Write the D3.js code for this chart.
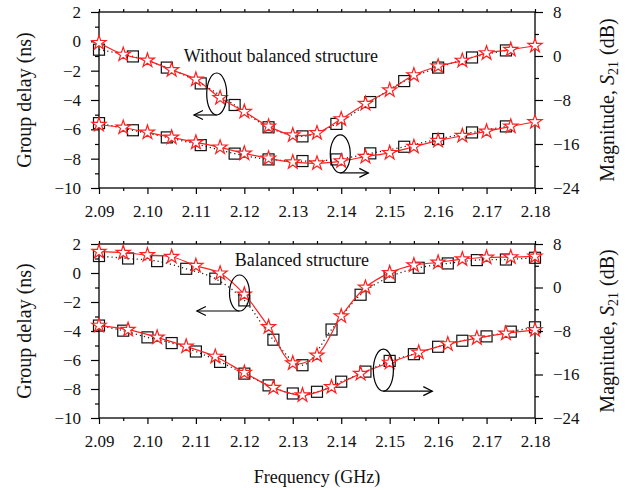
<!DOCTYPE html>
<html>
<head>
<meta charset="utf-8">
<script src="https://cdn.jsdelivr.net/npm/d3@7"></script>
<style>
  body { margin: 0; background: #fff; }
  svg { display: block; font-family: "Liberation Serif", "DejaVu Serif", serif; }
</style>
</head>
<body>
<svg id="chart" width="635" height="490"></svg>
<script>
// frequencies (GHz) of the markers
let fStars5 = [2.090, 2.095, 2.100, 2.105, 2.110, 2.115, 2.120, 2.125, 2.130, 2.135,
               2.140, 2.145, 2.150, 2.155, 2.160, 2.165, 2.170, 2.175, 2.180]
let fSquares7 = [2.090, 2.097, 2.104, 2.111, 2.118, 2.125, 2.132, 2.139, 2.146, 2.153, 2.160, 2.167, 2.174]
let fSquares6 = [2.090, 2.096, 2.102, 2.108, 2.114, 2.120, 2.126, 2.132, 2.138, 2.144,
                 2.150, 2.156, 2.162, 2.168, 2.174, 2.180]

// top panel: without balanced structure
let delayTopSim  = [-0.10, -0.90, -1.30, -1.95, -2.60, -3.85, -4.80, -5.80, -6.40, -6.25,
                    -5.30, -4.25, -3.33, -2.30, -1.70, -1.31, -0.80, -0.57, -0.30]
let delayTopMeas = [-0.57, -1.03, -1.79, -2.87, -4.34, -5.86, -6.48, -5.63, -4.14, -2.71, -1.79, -1.10, -0.62]
let magTopSim    = [-12.5, -13.0, -13.9, -14.8, -15.7, -16.6, -17.7, -18.6, -19.3, -19.5,
                    -19.1, -18.3, -17.6, -16.5, -15.4, -14.5, -13.7, -12.8, -12.0]
let magTopMeas   = [-12.2, -13.5, -14.8, -16.2, -17.75, -18.8, -19.1, -18.8, -17.7, -16.5, -15.1, -13.9, -12.8]

// bottom panel: balanced structure
let delayBotSim  = [1.47, 1.40, 1.24, 1.12, 0.50, -0.02, -1.48, -3.72, -6.22, -5.68,
                    -2.98, -1.00, 0.01, 0.54, 0.73, 0.96, 1.07, 1.10, 1.14]
let delayBotMeas = [1.17, 1.00, 0.82, 0.29, -0.39, -1.89, -4.60, -6.36, -3.90, -1.50,
                    -0.27, 0.36, 0.66, 0.89, 0.93, 1.05]
let magBotSim    = [-7.0, -7.75, -9.17, -10.84, -12.7, -15.66, -18.44, -19.8, -18.3, -15.84,
                    -13.8, -11.95, -10.4, -9.3, -8.43, -7.8]
let magBotMeas   = [-7.0, -7.94, -9.17, -10.22, -11.77, -13.68, -15.84, -18.0, -19.49, -19.18,
                    -17.32, -15.47, -13.5, -12.26, -10.9, -9.79, -8.99, -8.12, -7.32]

// tick values
let xMajor = [2.09, 2.10, 2.11, 2.12, 2.13, 2.14, 2.15, 2.16, 2.17, 2.18]
let xMinor = [2.095, 2.105, 2.115, 2.125, 2.135, 2.145, 2.155, 2.165, 2.175]
let leftMajor = [-10, -8, -6, -4, -2, 0, 2]
let leftMinor = [-9, -7, -5, -3, -1, 1]
let rightMajor = [-24, -16, -8, 0, 8]
let rightMinor = [-20, -12, -4, 4]

let svg = d3.select("#chart")
svg.append("rect").attr("width", 635).attr("height", 490).attr("fill", "#fff")

let x0 = 99, x1 = 535
let xScale = d3.scaleLinear().domain([2.09, 2.18]).range([x0, x1])

let red = "#ff1f1f"

let zip = (fs, vs) => fs.map((f, i) => [f, vs[i]])

let arrowHead = (g, x, y, dir) => {
    g.append("path")
        .attr("d", `M${x - dir * 9},${y - 4.5} L${x},${y} L${x - dir * 9},${y + 4.5}`)
        .attr("fill", "none").attr("stroke", "#000").attr("stroke-width", 1.2)
}

let drawPanel = (cfg) => {
    let yL = d3.scaleLinear().domain([-10, 2]).range([cfg.y1, cfg.y0])
    let yR = d3.scaleLinear().domain([-24, 8]).range([cfg.y1, cfg.y0])
    let g = svg.append("g")

    let styleAxis = (a) => {
        a.select(".domain").remove()
        a.selectAll("line").attr("stroke", "#000").attr("stroke-width", 1.2)
        a.selectAll("text").attr("font-size", 17).attr("fill", "#111")
            .attr("font-family", "Liberation Serif")
    }

    // axes
    g.append("g").attr("transform", `translate(${x0},0)`)
        .call(d3.axisLeft(yL).tickValues(leftMajor).tickSize(8).tickPadding(10).tickSizeOuter(0))
        .call(styleAxis)
    g.append("g").attr("transform", `translate(${x0},0)`)
        .call(d3.axisLeft(yL).tickValues(leftMinor).tickSize(4).tickFormat("").tickSizeOuter(0))
        .call(styleAxis)
    g.append("g").attr("transform", `translate(${x1},0)`)
        .call(d3.axisRight(yR).tickValues(rightMajor).tickSize(8).tickPadding(10).tickSizeOuter(0))
        .call(styleAxis)
    g.append("g").attr("transform", `translate(${x1},0)`)
        .call(d3.axisRight(yR).tickValues(rightMinor).tickSize(4).tickFormat("").tickSizeOuter(0))
        .call(styleAxis)
    g.append("g").attr("transform", `translate(0,${cfg.y1})`)
        .call(d3.axisBottom(xScale).tickValues(xMajor).tickSize(6).tickPadding(11)
            .tickFormat(d3.format(".2f")).tickSizeOuter(0))
        .call(styleAxis)
    g.append("g").attr("transform", `translate(0,${cfg.y1})`)
        .call(d3.axisBottom(xScale).tickValues(xMinor).tickSize(3).tickFormat("").tickSizeOuter(0))
        .call(styleAxis)
    g.append("g").attr("transform", `translate(0,${cfg.y0})`)
        .call(d3.axisTop(xScale).tickValues(xMajor.concat(xMinor)).tickSize(3).tickFormat("").tickSizeOuter(0))
        .call(styleAxis)

    g.append("rect")
        .attr("x", x0).attr("y", cfg.y0)
        .attr("width", x1 - x0).attr("height", cfg.y1 - cfg.y0)
        .attr("fill", "none").attr("stroke", "#000").attr("stroke-width", 1.3)

    let series = [
        { meas: zip(cfg.fDelayMeas, cfg.delayMeas), sim: zip(cfg.fDelaySim, cfg.delaySim), y: yL },
        { meas: zip(cfg.fMagMeas, cfg.magMeas), sim: zip(cfg.fMagSim, cfg.magSim), y: yR }
    ]

    series.forEach(s => {
        let line = d3.line().x(d => xScale(d[0])).y(d => s.y(d[1])).curve(d3.curveCatmullRom)

        g.append("path").datum(s.meas)
            .attr("d", line)
            .attr("fill", "none").attr("stroke", "#222")
            .attr("stroke-width", 1.3).attr("stroke-dasharray", "1.2,3")

        g.selectAll(null).data(s.meas).enter().append("rect")
            .attr("x", d => xScale(d[0]) - 5.5)
            .attr("y", d => s.y(d[1]) - 5.5)
            .attr("width", 11).attr("height", 11)
            .attr("fill", "none").attr("stroke", "#111").attr("stroke-width", 1.2)

        g.append("path").datum(s.sim)
            .attr("d", line)
            .attr("fill", "none").attr("stroke", red).attr("stroke-width", 1.2)

        g.selectAll(null).data(s.sim).enter().append("path")
            .attr("d", d3.symbol(d3.symbolStar, 62))
            .attr("transform", d => `translate(${xScale(d[0])},${s.y(d[1])})`)
            .attr("fill", "#fff").attr("stroke", red).attr("stroke-width", 1.2)
    })

    // annotation text
    g.append("text")
        .attr("x", xScale(cfg.label[0])).attr("y", yL(cfg.label[1]))
        .attr("font-size", 18).attr("fill", "#111")
        .text(cfg.label[2])

    // ellipse + arrow pointing to the left axis
    let e1 = cfg.ellL
    let cx = xScale(e1.f), cy = yL(e1.v)
    g.append("ellipse").attr("cx", cx).attr("cy", cy).attr("rx", 10).attr("ry", e1.ry)
        .attr("fill", "none").attr("stroke", "#000").attr("stroke-width", 1.2)
    let ax = xScale(e1.to)
    g.append("line").attr("x1", cx).attr("x2", ax).attr("y1", cy + e1.ry).attr("y2", cy + e1.ry)
        .attr("stroke", "#000").attr("stroke-width", 1.2)
    arrowHead(g, ax, cy + e1.ry, -1)

    // ellipse + arrow pointing to the right axis
    let e2 = cfg.ellR
    cx = xScale(e2.f); cy = yR(e2.v)
    g.append("ellipse").attr("cx", cx).attr("cy", cy).attr("rx", 10).attr("ry", e2.ry)
        .attr("fill", "none").attr("stroke", "#000").attr("stroke-width", 1.2)
    ax = xScale(e2.to)
    g.append("line").attr("x1", cx).attr("x2", ax).attr("y1", cy + e2.ry).attr("y2", cy + e2.ry)
        .attr("stroke", "#000").attr("stroke-width", 1.2)
    arrowHead(g, ax, cy + e2.ry, 1)

    // axis titles
    g.append("text")
        .attr("transform", `translate(31,${(cfg.y0 + cfg.y1) / 2}) rotate(-90)`)
        .attr("text-anchor", "middle").attr("font-size", 20).attr("fill", "#111")
        .text("Group delay (ns)")

    let mag = g.append("text")
        .attr("transform", `translate(614,${(cfg.y0 + cfg.y1) / 2}) rotate(-90)`)
        .attr("text-anchor", "middle").attr("font-size", 20).attr("fill", "#111")
    mag.append("tspan").text("Magnitude, ")
    mag.append("tspan").attr("font-style", "italic").text("S")
    mag.append("tspan").attr("font-size", 14).attr("dy", 4).text("21")
    mag.append("tspan").attr("dy", -4).attr("dx", 6).text("(dB)")
}

drawPanel({
    y0: 12, y1: 188,
    fDelaySim: fStars5, delaySim: delayTopSim,
    fDelayMeas: fSquares7, delayMeas: delayTopMeas,
    fMagSim: fStars5, magSim: magTopSim,
    fMagMeas: fSquares7, magMeas: magTopMeas,
    label: [2.1075, -1.41, "Without balanced structure"],
    ellL: { f: 2.1143, v: -3.59, ry: 21, to: 2.1096 },
    ellR: { f: 2.1398, v: -17.8, ry: 19, to: 2.1456 }
})

drawPanel({
    y0: 244, y1: 418,
    fDelaySim: fStars5, delaySim: delayBotSim,
    fDelayMeas: fSquares6, delayMeas: delayBotMeas,
    fMagSim: fSquares6, magSim: magBotSim,
    fMagMeas: fStars5, magMeas: magBotMeas,
    label: [2.118, 0.48, "Balanced structure"],
    ellL: { f: 2.119, v: -1.38, ry: 18, to: 2.1102 },
    ellR: { f: 2.1487, v: -15.2, ry: 21, to: 2.1588 }
})

svg.append("text")
    .attr("x", (x0 + x1) / 2).attr("y", 483)
    .attr("text-anchor", "middle").attr("font-size", 18).attr("fill", "#111")
    .text("Frequency (GHz)")
</script>
</body>
</html>
